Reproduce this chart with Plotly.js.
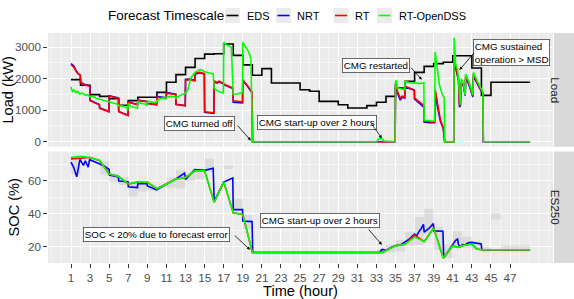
<!DOCTYPE html>
<html><head><meta charset="utf-8">
<script src="https://cdn.plot.ly/plotly-3.0.1.min.js"></script>
<style>html,body{margin:0;padding:0;background:#fff}#chart{width:574px;height:299px}</style>
</head><body><div id="chart"></div>
<script>
// ---------- DATA ----------
const seriesNames = ['EDS', 'NRT', 'RT', 'RT-OpenDSS'];
const xTickVals = [1,3,5,7,9,11,13,15,17,19,21,23,25,27,29,31,33,35,37,39,41,43,45,47];

// EDS hourly load (kW), step per hour
const edsTime = [1,2,3,4,5,6,7,8,9,10,11,12,13,14,15,16,17,18,19,20,21,22,23,24,25,26,27,28,29,30,31,32,33,34,35,36,37,38,39,40,41,42,43,44,45,46,47,48,49.1];
const edsLoad = [1970,1790,1495,1440,1365,1155,1305,1410,1410,1565,1885,2130,2360,2640,2780,2790,3100,2740,2440,2110,2320,1865,1865,1865,1650,1600,1280,1280,1175,1070,1070,1145,1250,1440,1705,1915,2200,2390,2480,2520,2730,2730,2340,1470,1885,1885,1885,1885,1885];

// RT / NRT load (shared time base)
const loadTime = [1.0,1.3,1.5,1.75,1.97,2.0,2.5,2.97,3.0,3.5,3.97,4.0,4.5,4.97,5.0,5.5,5.97,6.0,6.5,6.97,7.0,7.5,7.97,8.0,8.5,8.97,9.0,9.5,9.97,10.0,10.5,10.97,11.0,11.5,11.97,12.0,12.5,12.97,13.0,13.5,13.97,14.0,14.5,14.97,15.0,15.5,15.97,16.0,16.3,16.5,16.97,17.0,17.5,17.97,18.0,18.5,18.97,19.0,19.5,19.97,20.02,34.96,35.0,35.2,35.5,35.7,35.97,36.0,36.5,36.97,37.0,37.5,37.97,38.0,38.5,39.1,39.15,39.4,39.7,40.0,40.15,41.1,41.15,41.4,41.6,41.7,41.8,41.9,42.1,42.3,42.35,42.7,43.1,43.17,43.6,44.15,44.2,49.1];
const rtLoad   = [2450,2370,2250,2150,2110,1870,1800,1760,1300,1230,1170,1060,1000,950,1440,1410,1380,950,890,830,1250,1200,1170,1310,1300,1270,1210,1190,1170,1410,1400,1370,1540,1530,1500,1180,1160,1140,1950,1970,1930,2180,2200,2160,950,940,920,1930,1880,1920,1860,1830,1770,1700,1300,1280,1260,1960,1780,1570,0,0,1850,1600,1380,1450,1400,1760,1700,1640,1380,1250,1150,650,630,620,1650,1150,700,450,0,0,2650,2250,2000,1150,1200,1900,1820,1500,2100,1850,1450,2150,1850,1550,0,0];
const nrtLoad  = [2480,2400,2270,2160,2120,1880,1810,1770,1320,1240,1180,1080,1010,960,1460,1420,1390,960,900,840,1260,1210,1180,1320,1310,1280,1220,1200,1180,1440,1420,1390,1560,1540,1510,1190,1170,1150,1980,1990,1950,2150,2180,2150,930,920,900,1900,1860,1900,1840,1810,1750,1690,1250,1240,1230,1940,1760,1550,0,0,1830,1550,1320,1420,1380,1740,1690,1630,1350,1220,1100,620,600,600,1620,1100,650,420,0,0,2600,2200,1950,1100,1150,1850,1780,1460,2050,1800,1420,2100,1820,1520,0,0];

// RT-OpenDSS load
const dssTime = [1.0,1.15,1.3,1.5,1.7,1.9,2.2,2.5,2.8,3.0,3.3,3.6,4.0,4.3,4.7,5.0,5.4,5.8,6.0,6.4,6.8,6.95,7.0,7.3,7.7,7.97,8.0,8.3,8.7,8.97,9.0,9.5,9.97,10.0,10.5,10.97,11.0,11.5,11.97,12.0,12.5,12.9,13.2,13.4,13.6,14.0,14.3,14.5,14.8,15.0,15.5,15.9,16.0,16.3,16.6,16.97,17.0,17.3,17.8,17.95,18.0,18.5,18.97,19.0,19.3,19.6,19.85,20.02,33.0,33.3,33.6,33.8,34.96,35.0,35.1,35.2,35.5,35.97,36.0,36.5,36.97,37.0,37.5,37.97,38.0,38.5,39.1,39.15,39.4,39.6,39.9,40.1,40.15,41.1,41.15,41.3,41.5,41.7,41.8,41.9,42.1,42.3,42.35,42.7,43.1,43.17,43.6,44.15,44.2,49.1];
const dssLoad = [1740,1580,1640,1560,1600,1520,1540,1470,1490,1420,1440,1380,1350,1320,1300,1260,1230,1200,1150,1130,1090,990,1220,1120,1080,1060,1280,1220,1200,1150,1290,1250,1260,1310,1380,1390,1420,1440,1420,1380,1480,1520,1620,1870,2050,2200,2240,2290,2260,2220,2180,2150,1700,1620,1580,1550,3150,3080,3000,1600,1500,1520,1560,3160,3000,2850,2650,0,0,110,90,20,0,1900,1950,1700,1680,1650,1920,1870,1860,1880,1840,1870,680,660,650,2850,2300,1800,1500,1400,0,0,3300,2450,2300,1500,1170,2000,1850,1480,2150,1900,1480,2200,1900,1580,0,0];

// SOC (%) of ES250
const socTime = [1,2,3,4,5,6,7,8,9,10,11,12,13,14,15,16,17,18,19,20,33.6,34,35,36,37,38,39,40,41,41.5,42,42.5,43,43.5,44,49.1];
const dssSoc = [74.5,75,74.3,72.5,64.2,62.7,58.2,59.6,59.3,55.2,58,61.2,62.2,66.2,66.2,47,59.5,40.5,39.5,16.3,16.3,17.5,20.4,21.4,25.7,23,31.2,12.9,20.5,19.5,20.5,21,21.5,18.5,18,18];
const rtSoc  = [73.5,73.8,74.3,72.5,64.2,62.7,58,59.4,59.3,55.2,58,61.2,62.2,66.2,66.2,47,59.5,40.5,39.5,16.3,16.3,17.5,20.4,21.4,27,23,31.2,12.9,20.5,19.5,20.5,21,21.5,18.5,18,18];
const nrtSocTime = [1,1.3,1.6,1.94,2.3,2.5,2.8,2.95,3.97,4.5,5.0,5.03,5.97,6.0,6.97,7.0,7.97,8.0,8.97,9.0,9.97,11,12,12.9,13.0,13.97,15,15.9,16.0,17.0,17.95,18.0,18.97,19.0,19.97,20.04,33.3,33.6,34,34.5,35,35.5,36,36.5,37,37.2,37.5,37.7,37.93,38.0,38.5,38.97,39.02,39.97,40.05,40.5,40.8,41.0,41.3,41.5,41.6,41.8,42.0,42.3,42.6,43.0,43.5,43.97,44.05,49.1];
const nrtSoc = [71.5,68,62.5,73.2,69.5,72.3,68.5,73,70.5,69,67,63.6,62.5,60,59.6,56.5,56,58.5,58.3,57,54.6,58,61.3,64.8,61,67,66.5,67.8,47.5,59.3,61.8,42.5,42.5,35.5,35.2,16.3,16.3,18.2,17.6,19.2,20.6,20.8,22.8,24.8,27.5,26.5,29.5,31,33.5,28.8,31,34,29.5,29.3,13,17,20,21.5,23.8,24.5,21,20,21.2,21,22.2,22.5,21.8,21.5,18,18];

// SOC forecast range boxes (hour start, hour end, low, high)
const bandStart = [1,4,5,6,7,8,9,11,12,13,14,15,17,18,19,33,34,35,36,37,38,39,40,41,42,43,44,45,46];
const bandEnd   = [2,5,6,7,8,9,10,12,13,14,15,16,18,19,20,34,35,36,37,38,39,40,41,42,43,44,45,46,49.1];
const bandLow   = [64,64,59.5,57.5,50.5,53.5,54,56,55.5,60,61,65.5,67.3,43,31,15.5,16.5,17,20.5,21,27.5,18,13,19,19,18,16.5,36.5,16.8];
const bandHigh  = [74.5,72,64.5,62.5,59.5,59,58,62,66.5,64,67.5,73.5,69.3,49,39,18.5,21,24,29,38,43,32,21,29.5,26,23,19.5,40.5,20.8];

// ---------- STYLE ----------
const FONT = 'Liberation Sans, Arial, Helvetica, sans-serif';
const colors = {EDS:'#000000', NRT:'#0000FF', RT:'#FF0000', 'RT-OpenDSS':'#00FF00'};
const LW = 1.6;

// build band polygons
const bx = [], by = [];
for (let i = 0; i < bandStart.length; i++) {
  bx.push(bandStart[i], bandEnd[i], bandEnd[i], bandStart[i], bandStart[i], null);
  by.push(bandLow[i], bandLow[i], bandHigh[i], bandHigh[i], bandLow[i], null);
}

const traces = [
  {x: bx, y: by, xaxis:'x', yaxis:'y2', mode:'lines', fill:'toself', fillcolor:'rgba(185,185,185,0.32)', line:{width:0}, hoverinfo:'skip', showlegend:false},
  {x: edsTime, y: edsLoad, xaxis:'x2', yaxis:'y', mode:'lines', line:{color:colors.EDS, width:LW, shape:'hv'}, name:'EDS', showlegend:false},
  {x: loadTime, y: nrtLoad, xaxis:'x2', yaxis:'y', mode:'lines', line:{color:colors.NRT, width:LW}, name:'NRT', showlegend:false},
  {x: loadTime, y: rtLoad, xaxis:'x2', yaxis:'y', mode:'lines', line:{color:colors.RT, width:LW}, name:'RT', showlegend:false},
  {x: dssTime, y: dssLoad, xaxis:'x2', yaxis:'y', mode:'lines', line:{color:colors['RT-OpenDSS'], width:LW}, name:'RT-OpenDSS', showlegend:false},
  {x: nrtSocTime, y: nrtSoc, xaxis:'x', yaxis:'y2', mode:'lines', line:{color:colors.NRT, width:LW}, name:'NRT', showlegend:false},
  {x: socTime, y: rtSoc, xaxis:'x', yaxis:'y2', mode:'lines', line:{color:colors.RT, width:LW}, name:'RT', showlegend:false},
  {x: socTime, y: dssSoc, xaxis:'x', yaxis:'y2', mode:'lines', line:{color:colors['RT-OpenDSS'], width:LW}, name:'RT-OpenDSS', showlegend:false}
];

// geometry helpers (paper coords)
const L = 48, R = 553, T = 33, B = 263, W = 574, H = 299;
const px = v => (v - L) / (R - L);
const py = v => (B - v) / (B - T);

const gridCommon = {showgrid:true, gridcolor:'#FFFFFF', gridwidth:1, zeroline:false, showline:false};
const xr = [-1.41, 51.5];

const shapes = [
  {type:'rect', xref:'x2 domain', yref:'y domain', x0:0, x1:1, y0:0, y1:1, fillcolor:'#EBEBEB', line:{width:0}, layer:'below'},
  {type:'rect', xref:'x domain', yref:'y2 domain', x0:0, x1:1, y0:0, y1:1, fillcolor:'#EBEBEB', line:{width:0}, layer:'below'},
  {type:'rect', xref:'paper', yref:'y domain', x0:px(554), x1:px(574), y0:0, y1:1, fillcolor:'#D9D9D9', line:{width:0}, layer:'below'},
  {type:'rect', xref:'paper', yref:'y2 domain', x0:px(554), x1:px(574), y0:0, y1:1, fillcolor:'#D9D9D9', line:{width:0}, layer:'below'}
];

const annotations = [
  {xref:'paper', yref:'y domain', x:px(564), y:0.5, text:'Load', textangle:90, showarrow:false, font:{family:FONT, size:11.7, color:'#1A1A1A'}},
  {xref:'paper', yref:'y2 domain', x:px(564), y:0.5, text:'ES250', textangle:90, showarrow:false, font:{family:FONT, size:11.7, color:'#1A1A1A'}}
];

// custom legend (ggplot style)
const legY = py(15.5);
annotations.push({xref:'paper', yref:'paper', x:px(106), y:legY, xanchor:'left', yanchor:'middle', text:'Forecast Timescale', showarrow:false, font:{family:FONT, size:13.4, color:'#000'}});
const keyCenters = [232.5, 283.5, 341, 384.5];
const textLefts = [245, 295, 353, 397];
seriesNames.forEach((n, i) => {
  const c = keyCenters[i];
  shapes.push({type:'rect', xref:'paper', yref:'paper', x0:px(c-7.5), x1:px(c+7.5), y0:py(15.5+7.5), y1:py(15.5-7.5), fillcolor:'#EBEBEB', line:{width:0}});
  shapes.push({type:'line', xref:'paper', yref:'paper', x0:px(c-6), x1:px(c+6), y0:legY, y1:legY, line:{color:colors[n], width:1.6}});
  annotations.push({xref:'paper', yref:'paper', x:px(textLefts[i]), y:legY, xanchor:'left', yanchor:'middle', text:n, showarrow:false, font:{family:FONT, size:11, color:'#000'}});
});

// labels with arrows
const lblFont = {family:FONT, size:9.8, color:'#000'};
const lbl = (xref, yref, x, y, text, extra) => Object.assign({xref, yref, x, y, text, showarrow:false, bgcolor:'#FFFFFF', bordercolor:'#444', borderwidth:0.8, borderpad:1, font:lblFont}, extra||{});
const arr = (xref, yref, x, y, ax, ay) => ({xref, yref, x, y, ax, ay, axref:xref, ayref:yref, text:'', showarrow:true, arrowhead:2, arrowsize:0.8, arrowwidth:0.8, arrowcolor:'#000', standoff:0, startstandoff:0});
annotations.push(
  lbl('x2','y', 14.47, 562, 'CMG turned off'),
  arr('x2','y', 19.84, 40, 18.3, 562),
  lbl('x2','y', 26.8, 625, 'CMG start-up over 2 hours'),
  arr('x2','y', 33.57, 108, 32.34, 625),
  lbl('x2','y', 32.97, 2435, 'CMG restarted'),
  arr('x2','y', 37.76, 1969, 36.5, 2394),
  lbl('x2','y', 47.2, 2826, 'CMG sustained<br>operation &gt; MSD', {align:'left'}),
  arr('x2','y', 41.7, 2276, 43.35, 2864),
  lbl('x','y2', 9.96, 27.5, 'SOC &lt; 20% due to forecast error'),
  arr('x','y2', 19.76, 18.0, 18.0, 27.5),
  lbl('x','y2', 27.1, 35.6, 'CMG start-up over 2 hours'),
  arr('x','y2', 33.57, 21.0, 32.06, 31.2)
);

const layout = {
  width: W, height: H,
  margin: {l: L, r: W - R, t: T, b: H - B, pad: 0},
  paper_bgcolor: '#FFFFFF', plot_bgcolor: 'rgba(0,0,0,0)',
  font: {family: FONT, color: '#4D4D4D'},
  showlegend: false,
  xaxis: Object.assign({}, gridCommon, {
    domain:[0,1], anchor:'y2', range: xr, tickmode:'array', tickvals: xTickVals,
    ticks:'outside', ticklen:3.7, tickwidth:1, tickcolor:'#333333',
    tickfont:{family:FONT, size:11.7, color:'#4D4D4D'},
    minor:{tickmode:'linear', tick0:-1, dtick:1, showgrid:true, gridcolor:'#FFFFFF', gridwidth:0.5, ticks:''},
    title:{text:'Time (hour)', font:{family:FONT, size:14.6, color:'#000'}, standoff:1}
  }),
  xaxis2: Object.assign({}, gridCommon, {
    domain:[0,1], anchor:'y', matches:'x', range: xr, tickmode:'array', tickvals: xTickVals,
    showticklabels:false, ticks:'',
    minor:{tickmode:'linear', tick0:-1, dtick:1, showgrid:true, gridcolor:'#FFFFFF', gridwidth:0.5, ticks:''}
  }),
  yaxis: Object.assign({}, gridCommon, {
    domain:[(B-146.7)/(B-T), 1], anchor:'x2', range:[-159, 3451], tickmode:'array', tickvals:[0,1000,2000,3000],
    ticks:'outside', ticklen:3.7, tickwidth:1, tickcolor:'#333333',
    tickfont:{family:FONT, size:11.7, color:'#4D4D4D'},
    minor:{tickmode:'linear', tick0:500, dtick:1000, showgrid:true, gridcolor:'#FFFFFF', gridwidth:0.5, ticks:''},
    title:{text:'Load (kW)', font:{family:FONT, size:14.6, color:'#000'}, standoff:4}
  }),
  yaxis2: Object.assign({}, gridCommon, {
    domain:[0, (B-151.5)/(B-T)], anchor:'x', range:[9.9, 78], tickmode:'array', tickvals:[20,40,60],
    ticks:'outside', ticklen:3.7, tickwidth:1, tickcolor:'#333333',
    tickfont:{family:FONT, size:11.7, color:'#4D4D4D'},
    minor:{tickmode:'linear', tick0:10, dtick:20, showgrid:true, gridcolor:'#FFFFFF', gridwidth:0.5, ticks:''},
    title:{text:'SOC (%)', font:{family:FONT, size:14.6, color:'#000'}, standoff:4}
  }),
  shapes: shapes,
  annotations: annotations
};

Plotly.newPlot('chart', traces, layout, {displayModeBar:false, staticPlot:true});
</script>
</body></html>
